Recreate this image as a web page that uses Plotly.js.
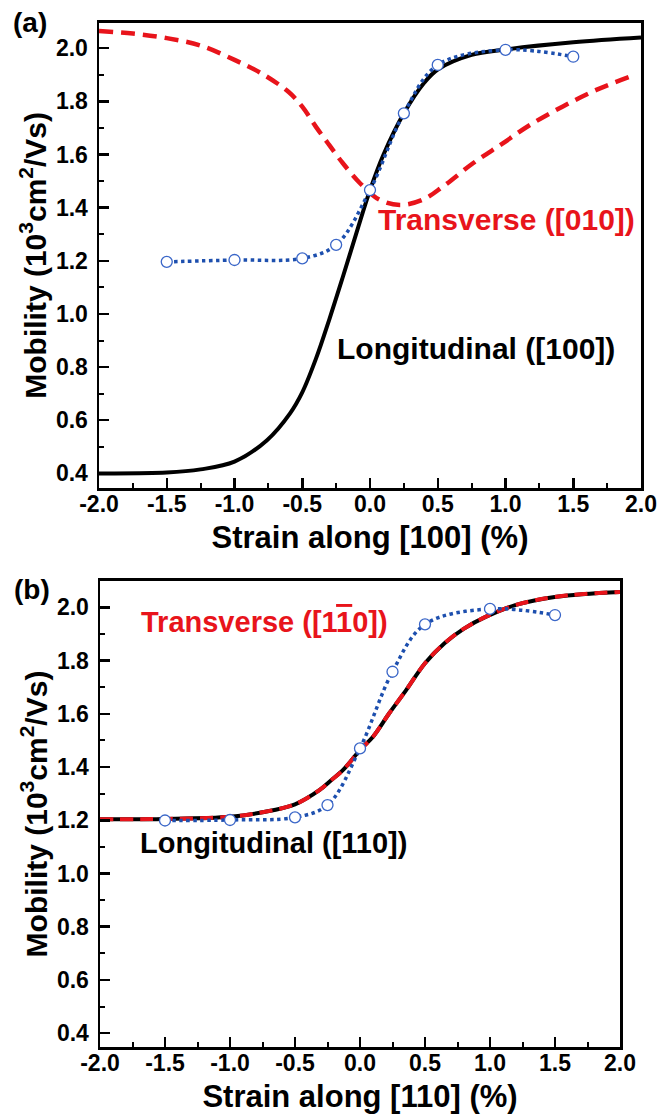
<!DOCTYPE html>
<html>
<head>
<meta charset="utf-8">
<script src="https://cdn.plot.ly/plotly-3.0.1.min.js"></script>
<style>html,body{margin:0;padding:0;background:#fff;}#chart{width:658px;height:1118px;}</style>
</head>
<body>
<div id="chart"></div>
<script>
// ---------- Data ----------
// Panel (a): strain along [100]
const strainLongA = [-2.0, -1.5, -1.25, -1.0, -0.76, -0.59, -0.5, -0.4, -0.3, -0.2, -0.1, 0.0, 0.1, 0.25, 0.4, 0.5, 0.75, 1.0, 1.5, 2.0];
const mobilityLongA = [0.400, 0.403, 0.415, 0.444, 0.525, 0.626, 0.705, 0.83, 0.98, 1.14, 1.305, 1.466, 1.60, 1.755, 1.87, 1.92, 1.975, 1.995, 2.022, 2.04];

const strainTransA = [-2.0, -1.75, -1.5, -1.25, -1.0, -0.8, -0.6, -0.5, -0.4, -0.3, -0.2, -0.07, 0.07, 0.22, 0.39, 0.54, 0.76, 0.98, 1.18, 1.42, 1.67, 1.93];
const mobilityTransA = [2.065, 2.055, 2.038, 2.01, 1.956, 1.905, 1.835, 1.78, 1.705, 1.635, 1.567, 1.49, 1.43, 1.41, 1.43, 1.48, 1.567, 1.642, 1.711, 1.78, 1.843, 1.895];

const strainPoints = [-1.5, -1.0, -0.5, -0.25, 0.0, 0.25, 0.5, 1.0, 1.5];
const mobilityPointsA = [1.196, 1.203, 1.209, 1.26, 1.466, 1.755, 1.937, 1.994, 1.968];

// Panel (b): strain along [110]
const strainLongB = [-2.0, -1.5, -1.0, -0.75, -0.5, -0.31, -0.235, -0.13, 0.0, 0.1, 0.225, 0.355, 0.5, 0.65, 0.8, 0.97, 1.2, 1.51, 2.0];
const mobilityLongB = [1.204, 1.205, 1.213, 1.23, 1.26, 1.314, 1.345, 1.389, 1.464, 1.514, 1.602, 1.689, 1.79, 1.865, 1.92, 1.965, 2.009, 2.04, 2.058];
const strainTransB = [-2.0, -1.5, -1.0, -0.75, -0.5, -0.31, -0.235, -0.13, 0.0, 0.1, 0.225, 0.355, 0.5, 0.65, 0.8, 0.97, 1.2, 1.51, 2.0];
const mobilityTransB = [1.204, 1.205, 1.213, 1.23, 1.26, 1.314, 1.345, 1.389, 1.464, 1.514, 1.602, 1.689, 1.79, 1.865, 1.92, 1.965, 2.009, 2.04, 2.058];
const mobilityPointsB = [1.199, 1.201, 1.211, 1.257, 1.47, 1.758, 1.936, 1.994, 1.971];

// Tick labels
const xTickVals = [-2.0, -1.5, -1.0, -0.5, 0.0, 0.5, 1.0, 1.5, 2.0];
const xTickText = ['-2.0', '-1.5', '-1.0', '-0.5', '0.0', '0.5', '1.0', '1.5', '2.0'];
const yTickVals = [0.4, 0.6, 0.8, 1.0, 1.2, 1.4, 1.6, 1.8, 2.0];
const yTickText = ['0.4', '0.6', '0.8', '1.0', '1.2', '1.4', '1.6', '1.8', '2.0'];

const labelsA = {x: 'Strain along [100] (%)', trans: 'Transverse ([010])', long: 'Longitudinal ([100])'};
const labelsB = {x: 'Strain along [110] (%)',
  trans: 'Transverse ([1<span style="text-decoration:overline">1</span>0])',
  long: 'Longitudinal ([110])'};
const yTitle = 'Mobility (10<sup>3</sup>cm<sup>2</sup>/Vs)';

// ---------- Styles ----------
const FONT = 'Liberation Sans, Arial, sans-serif';
const RED = '#e8141b';
const BLUE = '#1d4fae';
const BLACK = '#000000';

function curve(x, y, xa, ya, color, width, dash) {
  return {x: x, y: y, xaxis: xa, yaxis: ya, type: 'scatter', mode: 'lines',
    line: {color: color, width: width, dash: dash, shape: 'spline', smoothing: 1}, hoverinfo: 'skip'};
}
function dots(x, y, xa, ya) {
  return {x: x, y: y, xaxis: xa, yaxis: ya, type: 'scatter', mode: 'lines+markers',
    line: {color: BLUE, width: 3.5, dash: 'dot', shape: 'spline', smoothing: 1},
    marker: {symbol: 'circle', size: 11, color: '#ffffff', line: {color: '#3a66c8', width: 1.3}},
    hoverinfo: 'skip'};
}

const traces = [
  curve(strainLongA, mobilityLongA, 'x', 'y', BLACK, 4, 'solid'),
  curve(strainTransA, mobilityTransA, 'x', 'y', RED, 4.5, '14px,8px'),
  dots(strainPoints, mobilityPointsA, 'x', 'y'),
  curve(strainLongB, mobilityLongB, 'x2', 'y2', BLACK, 4, 'solid'),
  curve(strainTransB, mobilityTransB, 'x2', 'y2', RED, 4, '13px,7px'),
  dots(strainPoints, mobilityPointsB, 'x2', 'y2')
];

function xAxis(domain, anchor, title) {
  return {
    domain: domain, anchor: anchor, range: [-2, 2],
    tickmode: 'array', tickvals: xTickVals, ticktext: xTickText,
    ticks: 'inside', ticklen: 10, tickwidth: 2.5, tickcolor: BLACK,
    minor: {ticks: 'inside', ticklen: 5, tickwidth: 2, dtick: 0.25, tick0: 0, tickcolor: BLACK, showgrid: false},
    showline: true, linewidth: 2.5, linecolor: BLACK, mirror: true,
    showgrid: false, zeroline: false, ticklabelstandoff: -6,
    tickfont: {family: FONT, size: 23, color: BLACK, weight: 'bold'},
    title: {text: title, font: {family: FONT, size: 31, color: BLACK, weight: 'bold'}, standoff: 10},
    automargin: false, fixedrange: true
  };
}
function yAxis(domain, anchor, range) {
  return {
    domain: domain, anchor: anchor, range: range,
    tickmode: 'array', tickvals: yTickVals, ticktext: yTickText,
    ticks: 'inside', ticklen: 10, tickwidth: 2.5, tickcolor: BLACK,
    minor: {ticks: 'inside', ticklen: 5, tickwidth: 2, dtick: 0.1, tick0: 0, tickcolor: BLACK, showgrid: false},
    showline: true, linewidth: 2.5, linecolor: BLACK, mirror: true,
    showgrid: false, zeroline: false, ticklabelstandoff: 4,
    tickfont: {family: FONT, size: 23, color: BLACK, weight: 'bold'},
    title: {text: yTitle, font: {family: FONT, size: 30, color: BLACK, weight: 'bold'}, standoff: 1},
    automargin: false, fixedrange: true
  };
}

const W = 658, H = 1118;
const layout = {
  width: W, height: H,
  margin: {l: 0, r: 0, t: 0, b: 0, pad: 0},
  paper_bgcolor: '#ffffff', plot_bgcolor: '#ffffff',
  showlegend: false,
  xaxis: xAxis([99 / W, 641 / W], 'y', labelsA.x),
  yaxis: yAxis([1 - 488 / H, 1 - 22.7 / H], 'x', [0.345, 2.096]),
  xaxis2: xAxis([100 / W, 620 / W], 'y2', labelsB.x),
  yaxis2: yAxis([1 - 1047.3 / H, 1 - 580.7 / H], 'x2', [0.347, 2.10]),
  annotations: [
    {text: '(a)', xref: 'paper', yref: 'paper', x: 11 / W, y: 1 - 23 / H, xanchor: 'left', yanchor: 'middle', showarrow: false,
      font: {family: FONT, size: 28, color: BLACK, weight: 'bold'}},
    {text: '(b)', xref: 'paper', yref: 'paper', x: 12 / W, y: 1 - 589 / H, xanchor: 'left', yanchor: 'middle', showarrow: false,
      font: {family: FONT, size: 28, color: BLACK, weight: 'bold'}},
    {text: labelsA.trans, xref: 'x', yref: 'y', x: 1.009, y: 1.355, xanchor: 'center', yanchor: 'middle', showarrow: false,
      font: {family: FONT, size: 30, color: RED, weight: 'bold'}},
    {text: labelsA.long, xref: 'x', yref: 'y', x: 0.781, y: 0.87, xanchor: 'center', yanchor: 'middle', showarrow: false,
      font: {family: FONT, size: 30, color: BLACK, weight: 'bold'}},
    {text: labelsB.trans, xref: 'x2', yref: 'y2', x: -0.738, y: 1.943, xanchor: 'center', yanchor: 'middle', showarrow: false,
      font: {family: FONT, size: 29, color: RED, weight: 'bold'}},
    {text: labelsB.long, xref: 'x2', yref: 'y2', x: -0.662, y: 1.115, xanchor: 'center', yanchor: 'middle', showarrow: false,
      font: {family: FONT, size: 29, color: BLACK, weight: 'bold'}}
  ]
};

Plotly.newPlot('chart', traces, layout, {staticPlot: true, displayModeBar: false});
</script>
</body>
</html>
